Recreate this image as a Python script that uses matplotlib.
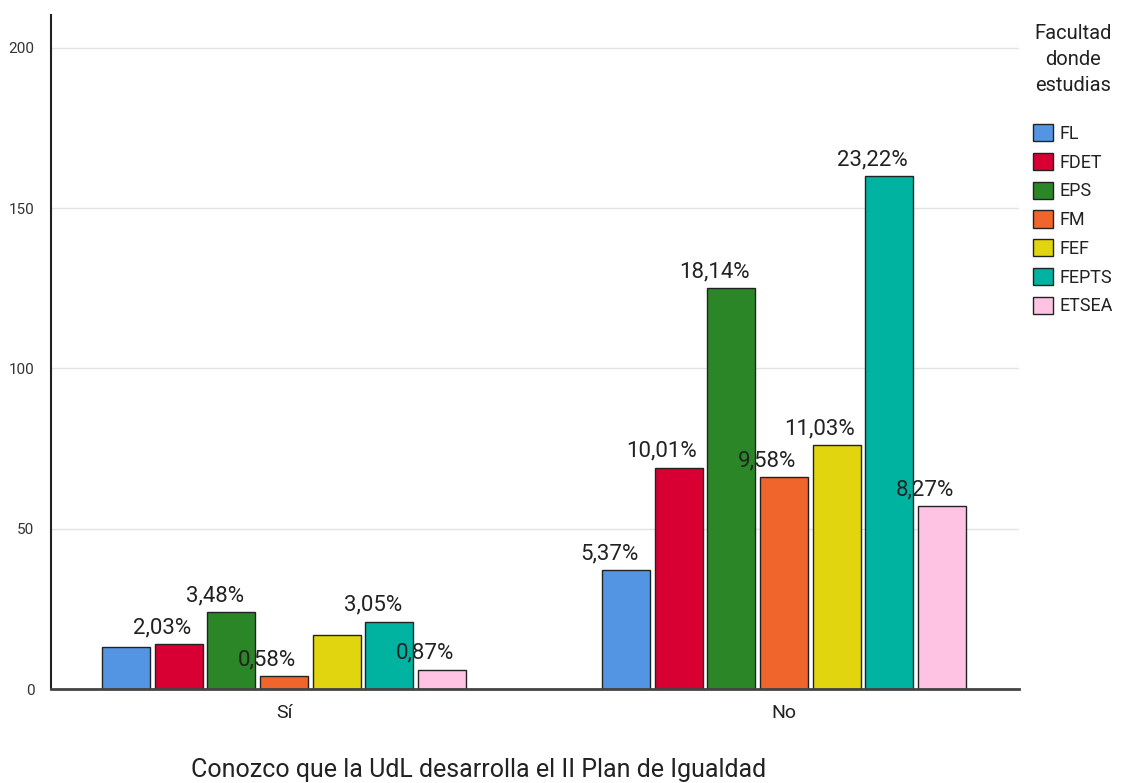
import numpy as np
import matplotlib.pyplot as plt
from matplotlib.patches import Patch

plt.rcParams['font.family'] = ['Roboto', 'DejaVu Sans']

groups = ['Sí', 'No']
faculties = ['FL', 'FDET', 'EPS', 'FM', 'FEF', 'FEPTS', 'ETSEA']
colors = ['#5495E3', '#D80032', '#2B8627', '#F0652B', '#E1D50F', '#00B3A0', '#FEC3E2']
si_counts = [13, 14, 24, 4, 17, 21, 6]
no_counts = [37, 69, 125, 66, 76, 160, 57]
si_labels = [None, '2,03%', '3,48%', '0,58%', None, '3,05%', '0,87%']
no_labels = ['5,37%', '10,01%', '18,14%', '9,58%', '11,03%', '23,22%', '8,27%']

fig = plt.figure(figsize=(11.21, 7.83), dpi=100)
ax = fig.add_axes([0.0455, 0.120, 0.8635, 0.861])

x = np.arange(len(groups))
width = 0.096
step = 0.1054
offsets = (np.arange(len(faculties)) - 3) * step
data = np.array([si_counts, no_counts])
labels = [si_labels, no_labels]

for i, fac in enumerate(faculties):
    bars = ax.bar(x + offsets[i], data[:, i], width, color=colors[i],
                  edgecolor='#222222', linewidth=1, label=fac, zorder=3)
    for g, b in enumerate(bars):
        lab = labels[g][i]
        if lab is None:
            continue
        ax.annotate(lab, (b.get_x() + b.get_width() / 2, b.get_height()),
                    xytext=(-12, 8), textcoords='offset points',
                    ha='center', va='baseline', fontsize=16, color='#222222', zorder=4)

ax.set_xlim(-0.466, 1.47)
ax.set_ylim(0, 210.3)
ax.set_yticks([0, 50, 100, 150, 200])
ax.set_xticks(x)
ax.set_xticklabels(groups, fontsize=14, color='#222222')
ax.tick_params(axis='y', labelsize=11, colors='#333333', length=0, pad=12)
ax.tick_params(axis='x', length=0, pad=11)
ax.grid(axis='y', color='#e3e3e3', linewidth=1, zorder=0)
for s in ['top', 'right']:
    ax.spines[s].set_visible(False)
ax.spines['left'].set_color('#222222')
ax.spines['left'].set_linewidth(1.5)
ax.spines['bottom'].set_color('#444444')
ax.spines['bottom'].set_linewidth(2)
ax.spines['bottom'].set_zorder(5)

fig.text(0.427, 0.008, 'Conozco que la UdL desarrolla el II Plan de Igualdad',
         ha='center', va='baseline', fontsize=18, color='#222222')

handles = [Patch(facecolor=c, edgecolor='#222222', linewidth=1) for c in colors]
leg = fig.legend(handles, faculties, loc='upper left', bbox_to_anchor=(0.915, 0.978),
                 title='Facultad\ndonde\nestudias', title_fontsize=14.5, fontsize=13,
                 frameon=False, handlelength=1.1, handleheight=1.1,
                 handletextpad=0.35, labelspacing=0.55, borderaxespad=0,
                 alignment='center')
leg.get_title().set_multialignment('center')
leg.get_title().set_linespacing(1.45)
leg.get_title().set_color('#222222')
leg._legend_box.sep = 21
for t in leg.get_texts():
    t.set_color('#222222')

fig.savefig('out.png', dpi=100)
